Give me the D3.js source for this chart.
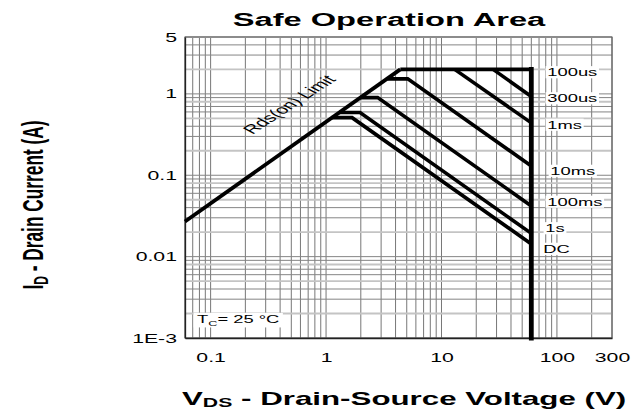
<!DOCTYPE html>
<html>
<head>
<meta charset="utf-8">
<script src="https://cdn.jsdelivr.net/npm/d3@7"></script>
<style>
  body { margin: 0; background: #fff; }
  text { font-family: "Liberation Sans", Arial, sans-serif; fill: #000; }
</style>
</head>
<body>
<script>
"use strict";

const series_names = ["100us", "300us", "1ms", "10ms", "100ms", "1s", "DC"]
const series_volts = [[4.4, 60], [28, 60], [13, 60], [3.4, 5.1, 60], [2.0, 2.8, 60], [1.3, 1.97, 60], [1.12, 1.68, 60]]
const series_amps = [[2.0, 2.0], [2.0, 0.93], [2.0, 0.44], [1.53, 1.53, 0.13], [0.9, 0.9, 0.042], [0.59, 0.59, 0.0193], [0.51, 0.51, 0.0143]]

// Rds(on) limit and the Vds max wall
const rds_volts = [0.06, 4.4]
const rds_amps = [0.027, 2.0]
const wall_volts = [60, 60]
const wall_amps = [2.0, 0.001]

const x_ticks = [0.1, 1, 10, 100, 300]
const x_tick_labels = ["0.1", "1", "10", "100", "300"]
const y_ticks = [0.001, 0.01, 0.1, 1, 5]
const y_tick_labels = ["1E-3", "0.01", "0.1", "1", "5"]

const WIDTH = 633
const HEIGHT = 412
const SX = 1.7 // the original picture is stretched sideways, text too

const svg = d3.select("body").append("svg")
    .attr("width", WIDTH)
    .attr("height", HEIGHT)

svg.append("rect").attr("width", WIDTH).attr("height", HEIGHT).attr("fill", "#fff")

const x = d3.scaleLog().domain([0.06, 300]).range([185, 612])
const y = d3.scaleLog().domain([0.001, 5]).range([338, 37])

const pts = (vs, is) => vs.map((v, i) => [v, is[i]])
const line = d3.line().x(d => x(d[0])).y(d => y(d[1]))

function put_text(parent, px, py, str, size, anchor = "start", weight = "normal", extra = "") {
    return parent.append("text")
        .attr("transform", `translate(${px},${py}) scale(${SX},1) ${extra}`)
        .attr("text-anchor", anchor)
        .attr("font-size", size)
        .attr("font-weight", weight)
        .text(str)
}

// grid
const grid = svg.append("g")
grid.selectAll("line.v").data(x.ticks()).join("line")
    .attr("x1", d => x(d)).attr("x2", d => x(d))
    .attr("y1", y.range()[0]).attr("y2", y.range()[1])
    .attr("stroke", "#777").attr("stroke-width", 1)
grid.selectAll("line.h").data(y.ticks()).join("line")
    .attr("y1", d => y(d)).attr("y2", d => y(d))
    .attr("x1", x.range()[0]).attr("x2", x.range()[1])
    .attr("stroke", (d, i) => i % 3 == 1 ? "#c4c4c4" : "#858585")
    .attr("stroke-width", (d, i) => i % 3 == 1 ? 1.8 : 1)

// frame
svg.append("rect")
    .attr("x", x.range()[0]).attr("y", y.range()[1])
    .attr("width", x.range()[1] - x.range()[0])
    .attr("height", y.range()[0] - y.range()[1])
    .attr("fill", "none").attr("stroke", "#555").attr("stroke-width", 1)

// axes
const x_axis = svg.append("g")
    .attr("transform", `translate(0,${y.range()[0]})`)
    .call(d3.axisBottom(x).tickValues(x_ticks).tickFormat((d, i) => x_tick_labels[i]).tickSize(0).tickPadding(15))
const y_axis = svg.append("g")
    .attr("transform", `translate(${x.range()[0]},0)`)
    .call(d3.axisLeft(y).tickValues(y_ticks).tickFormat((d, i) => y_tick_labels[i]).tickSize(0).tickPadding(8))
for (const ax of [x_axis, y_axis]) {
    ax.select(".domain").attr("stroke", "#222").attr("stroke-width", 1.3)
    ax.selectAll("text")
        .attr("font-size", 12.5)
        .attr("font-family", "Liberation Sans, Arial, sans-serif")
        .attr("fill", "#000")
}
x_axis.selectAll("text").attr("transform", `scale(${SX},1)`)
y_axis.selectAll("text").attr("x", 0).attr("transform", `translate(-8,0) scale(${SX},1)`)

// curves
const curves = svg.append("g")
    .attr("fill", "none").attr("stroke", "#000")
    .attr("stroke-linejoin", "miter")
curves.append("path").attr("d", line(pts(rds_volts, rds_amps))).attr("stroke-width", 3.8)
series_names.forEach((name, i) => {
    curves.append("path").attr("d", line(pts(series_volts[i], series_amps[i]))).attr("stroke-width", 3.6)
})
curves.append("path").attr("d", line(pts(wall_volts, wall_amps)))
    .attr("stroke-width", 4.8).attr("stroke-linecap", "square")

// curve labels, white boxes behind
const label_dx = [16, 16, 16, 19, 16, 14, 12]
const label_dy = [3, 2, 2, 5, -4, -5, 5]
series_names.forEach((name, i) => {
    const n = series_volts[i].length - 1
    const g = svg.append("g")
        .attr("transform", `translate(${x(series_volts[i][n]) + label_dx[i]},${y(series_amps[i][n]) + label_dy[i]}) scale(${SX},1)`)
    const t = g.append("text").attr("font-size", 10.8).attr("dy", "0.35em").text(name)
    const b = t.node().getBBox()
    g.insert("rect", "text")
        .attr("x", b.x - 1).attr("y", b.y)
        .attr("width", b.width + 2).attr("height", b.height)
        .attr("fill", "#fff")
})

// Rds(on) Limit, along the line
const rds_mid = 0.47
put_text(svg, x(rds_mid) + 1, y(rds_mid / 2.2) - 44, "Rds(on) Limit", 12.4, "middle", "normal", "rotate(-47.8)")
    .attr("dy", "0.35em")

// Tc note
const tc = svg.append("g").attr("transform", `translate(197,323) scale(${SX},1)`)
const tc_text = tc.append("text").attr("font-size", 10.8)
tc_text.append("tspan").text("T")
tc_text.append("tspan").attr("font-size", 7.5).attr("dy", 3).text("C")
tc_text.append("tspan").attr("dy", -3).text("= 25 °C")
const tb = tc_text.node().getBBox()
tc.insert("rect", "text")
    .attr("x", tb.x - 2).attr("y", tb.y)
    .attr("width", tb.width + 4).attr("height", tb.height)
    .attr("fill", "#fff")

// titles
put_text(svg, 389, 26, "Safe Operation Area", 19.2, "middle", "bold")

const xt = put_text(svg, 182, 405, "", 18.4, "start", "bold")
xt.append("tspan").text("V")
xt.append("tspan").attr("font-size", 12.5).attr("dy", 2).text("DS")
xt.append("tspan").attr("dy", -2).text(" - Drain-Source Voltage (V)")

const yt = put_text(svg, 43, 205, "", 17.3, "middle", "bold", "rotate(-90)")
yt.append("tspan").text("I")
yt.append("tspan").attr("font-size", 12).attr("dy", 3).text("D")
yt.append("tspan").attr("dy", -3).text(" - Drain Current (A)")
</script>
</body>
</html>
